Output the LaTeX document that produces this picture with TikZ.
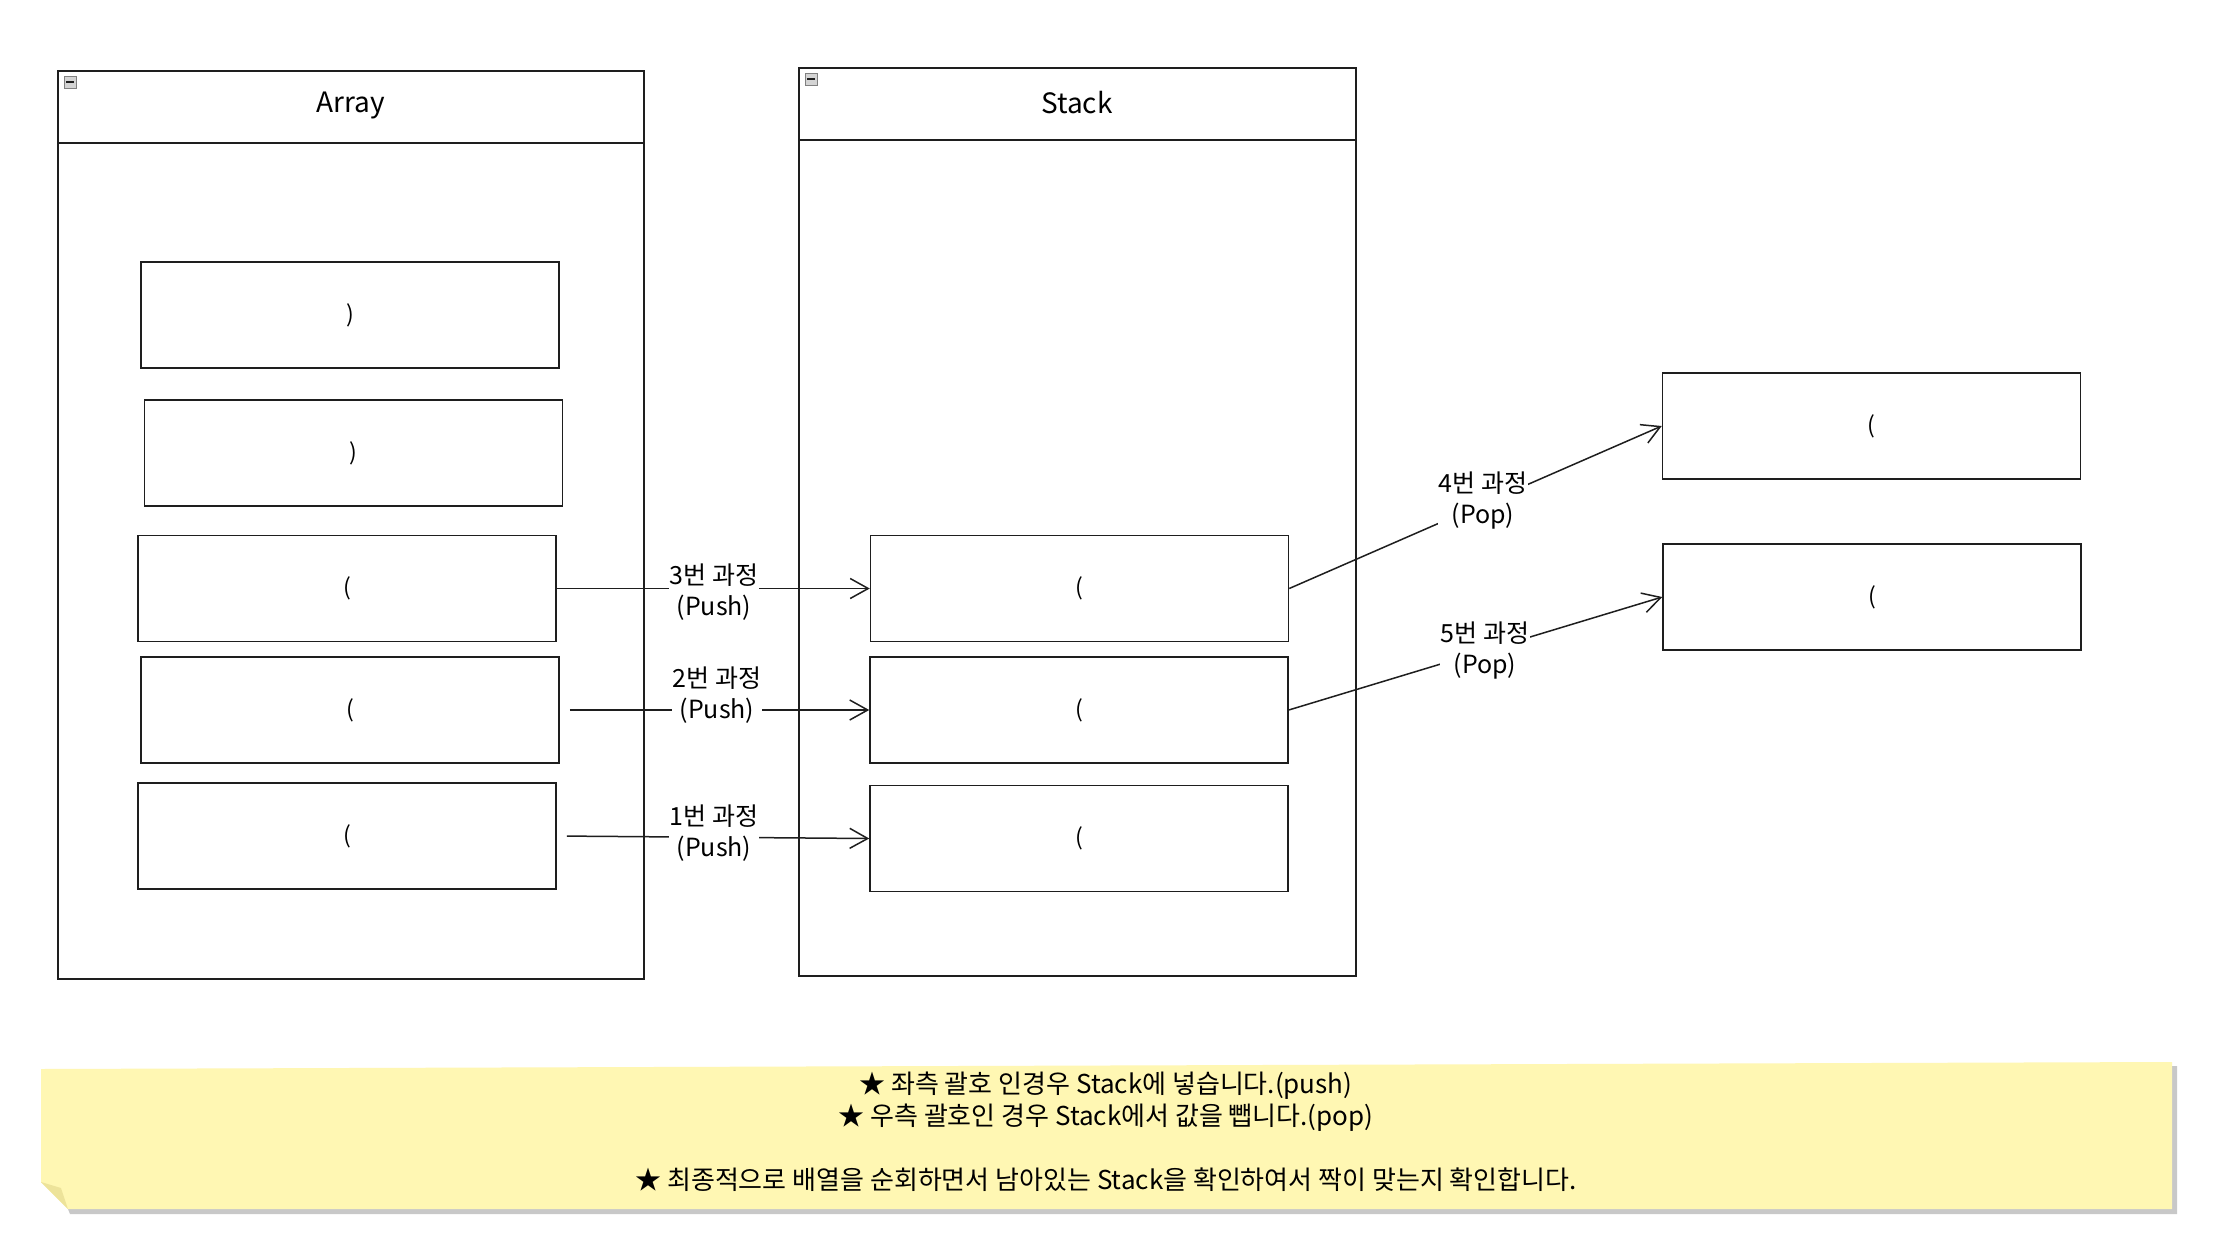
\documentclass[tikz,border=0pt]{standalone}
\usepackage{fontspec}
\setmainfont{Noto Sans CJK KR}
\usetikzlibrary{arrows.meta}
\definecolor{ink}{HTML}{1E1E1E}
\definecolor{noteyellow}{HTML}{FFF7B3}
\definecolor{notefold}{HTML}{EDE39A}
\definecolor{shadowgray}{HTML}{C8C8C8}
\definecolor{icongray}{HTML}{B8B8B8}
\begin{document}
\begin{tikzpicture}[x=1pt,y=-1pt,
  box/.style={draw=ink, line width=1.5pt, minimum width=418pt, minimum height=106pt, inner sep=0pt, font=\fontsize{23}{26}\selectfont},
  container/.style={draw=ink, line width=1.5pt, inner sep=0pt},
  ctitle/.style={font=\fontsize{28}{30}\selectfont, inner sep=0pt},
  lbl/.style={fill=white, align=center, font=\fontsize{25}{31}\selectfont, inner sep=1pt},
  conn/.style={draw=ink, line width=1.5pt, -{Straight Barb[length=18pt,width=20pt,line width=1.5pt]}},
  icon/.style={draw=gray, fill=icongray!60, line width=0.7pt, minimum size=12pt, inner sep=0pt},
  notetext/.style={align=center, font=\fontsize{26}{32}\selectfont, inner sep=0pt},
]
\useasboundingbox (0,0) rectangle (2214,1250);
\fill[white] (0,0) rectangle (2214,1250);

% containers
\node[container, minimum width=586pt, minimum height=908pt] (arr) at (351,525) {};
\coordinate (arrhl) at (58,143);
\coordinate (arrhr) at (644,143);
\draw[ink, line width=1.5pt] (arrhl) -- (arrhr);
\node[ctitle] (arrtitle) at (351,106) {Array};
\node[icon] (arricon) at (70,82) {};
\draw[ink, line width=1.8pt] ([xshift=2.5pt]arricon.west) -- ([xshift=-2.5pt]arricon.east);

\node[container, minimum width=557pt, minimum height=908pt] (stk) at (1077.5,522) {};
\coordinate (stkhl) at (799,140);
\coordinate (stkhr) at (1356,140);
\draw[ink, line width=1.5pt] (stkhl) -- (stkhr);
\node[ctitle] (stktitle) at (1077,103) {Stack};
\node[icon] (stkicon) at (811,79) {};
\draw[ink, line width=1.8pt] ([xshift=2.5pt]stkicon.west) -- ([xshift=-2.5pt]stkicon.east);

% array items
\node[box, fill=white] (a1) at (350,315) {)};
\node[box, fill=white] (a2) at (353.5,453) {)};
\node[box, fill=white] (a3) at (347,588.5) {(};
\node[box, fill=white] (a4) at (350,710) {(};
\node[box, fill=white] (a5) at (347,836) {(};

% stack items
\node[box, fill=white] (s1) at (1079.5,588.5) {(};
\node[box, fill=white] (s2) at (1079,710) {(};
\node[box, fill=white] (s3) at (1079,838.5) {(};

% popped items
\node[box, fill=white] (r1) at (1871.5,426) {(};
\node[box, fill=white] (r2) at (1872,597) {(};

% connectors
\draw[conn] (a3.east) -- (s1.west);
\draw[conn, shorten <=10pt] (a4.east) -- (s2.west);
\draw[conn, shorten <=10pt] (a5.east) -- (s3.west);
\draw[conn] (s1.east) -- (r1.west);
\draw[conn] (s2.east) -- (r2.west);

\node[lbl] (l3) at (714,592) {3번 과정\\(Push)};
\node[lbl] (l2) at (717,695) {2번 과정\\(Push)};
\node[lbl] (l1) at (714,833) {1번 과정\\(Push)};
\node[lbl] (l4) at (1483,501) {4번 과정\\(Pop)};
\node[lbl] (l5) at (1485,651) {5번 과정\\(Pop)};

% note
\fill[shadowgray] (2172,1066) -- (2177,1066) -- (2177,1214) -- (70,1214) -- (68,1209) -- (2172,1209) -- cycle;
\fill[noteyellow] (41,1069) -- (2172,1062) -- (2172,1209) -- (68,1209) -- (41,1182) -- cycle;
\fill[notefold] (41,1182) -- (61,1188) -- (68,1209) -- cycle;
\node[notetext] (note) at (1106,1132) {★ 좌측 괄호 인경우 Stack에 넣습니다.(push)\\★ 우측 괄호인 경우 Stack에서 값을 뺍니다.(pop)\\[32pt]★ 최종적으로 배열을 순회하면서 남아있는 Stack을 확인하여서 짝이 맞는지 확인합니다.};
\end{tikzpicture}
\end{document}
